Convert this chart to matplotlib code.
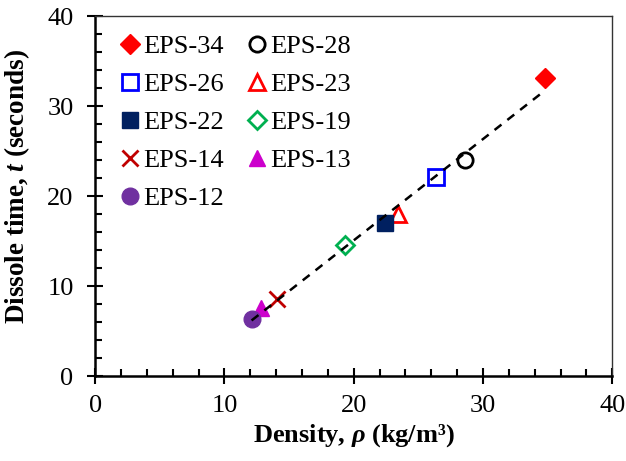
import matplotlib
matplotlib.use('Agg')
import matplotlib.pyplot as plt
import numpy as np

plt.rcParams['font.family'] = 'Liberation Serif'
plt.rcParams['mathtext.fontset'] = 'custom'
plt.rcParams['mathtext.rm'] = 'Liberation Serif:bold'
plt.rcParams['mathtext.it'] = 'Liberation Serif:italic:bold'
plt.rcParams['mathtext.bf'] = 'Liberation Serif:bold'

# samples
names = ['EPS-34', 'EPS-28', 'EPS-26', 'EPS-23', 'EPS-22',
         'EPS-19', 'EPS-14', 'EPS-13', 'EPS-12']
density = [34.8, 28.6, 26.4, 23.4, 22.4, 19.3, 14.1, 12.8, 12.1]
dissolve_time = [33.1, 24.0, 22.1, 18.0, 17.0, 14.6, 8.6, 7.6, 6.4]

# marker, color, filled, size
styles = {
    'EPS-34': ('D', '#FF0000', True, 10),
    'EPS-28': ('o', '#000000', False, 11),
    'EPS-26': ('s', '#0000FF', False, 11),
    'EPS-23': ('^', '#FF0000', False, 11),
    'EPS-22': ('s', '#002060', True, 11),
    'EPS-19': ('D', '#00B050', False, 9),
    'EPS-14': ('x', '#C00000', False, 12),
    'EPS-13': ('^', '#CC00CC', True, 11),
    'EPS-12': ('o', '#7030A0', True, 12),
}

fig = plt.figure(figsize=(6.26, 4.61), dpi=100)
ax = fig.add_axes([0.152, 0.184, 0.826, 0.781])

handles = {}
for n, x, y in zip(names, density, dissolve_time):
    m, c, filled, ms = styles[n]
    h, = ax.plot([x], [y], linestyle='none', marker=m, markersize=ms,
                 markeredgecolor=c, markerfacecolor=c if filled else 'white',
                 markeredgewidth=2 if not filled else 1, label=n, zorder=3)
    handles[n] = h

# linear trend line
k, b = np.polyfit(density, dissolve_time, 1)
xs = np.array([min(density), max(density)])
ax.plot(xs, k * xs + b, color='black', lw=1.8, linestyle=(0, (3.5, 3)), zorder=4)

ax.set_xlim(0, 40)
ax.set_ylim(0, 40)
ax.set_xticks(np.arange(0, 41, 10))
ax.set_yticks(np.arange(0, 41, 10))
ax.set_xticks(np.arange(0, 41, 2), minor=True)
ax.set_yticks(np.arange(0, 41, 2), minor=True)
ax.tick_params(which='major', direction='inout', length=11, width=1.5, labelsize=19)
ax.tick_params(axis='x', which='major', pad=8)
ax.tick_params(axis='y', which='major', pad=10)
ax.tick_params(which='minor', direction='in', length=5, width=1.5)

for s in ['left', 'bottom']:
    ax.spines[s].set_linewidth(1.8)
for s in ['top', 'right']:
    ax.spines[s].set_linewidth(1.0)
    ax.spines[s].set_color('#333333')

ax.set_xlabel('Density, $\\rho$ (kg/m\u00b3)', fontsize=19, fontweight='bold', labelpad=4)
ax.set_ylabel('Dissole time, $t$ (seconds)', fontsize=19.5, fontweight='bold',
              labelpad=11, y=0.528)

order = ['EPS-34', 'EPS-26', 'EPS-22', 'EPS-14', 'EPS-12',
         'EPS-28', 'EPS-23', 'EPS-19', 'EPS-13']
ax.legend([handles[n] for n in order], order, ncol=2, loc='upper left',
          bbox_to_anchor=(0.012, 1.0), frameon=False, fontsize=19,
          handlelength=0.8, handletextpad=0.1, columnspacing=0.85,
          labelspacing=0.55, borderaxespad=0.3)

fig.savefig('out.png', dpi=100)
